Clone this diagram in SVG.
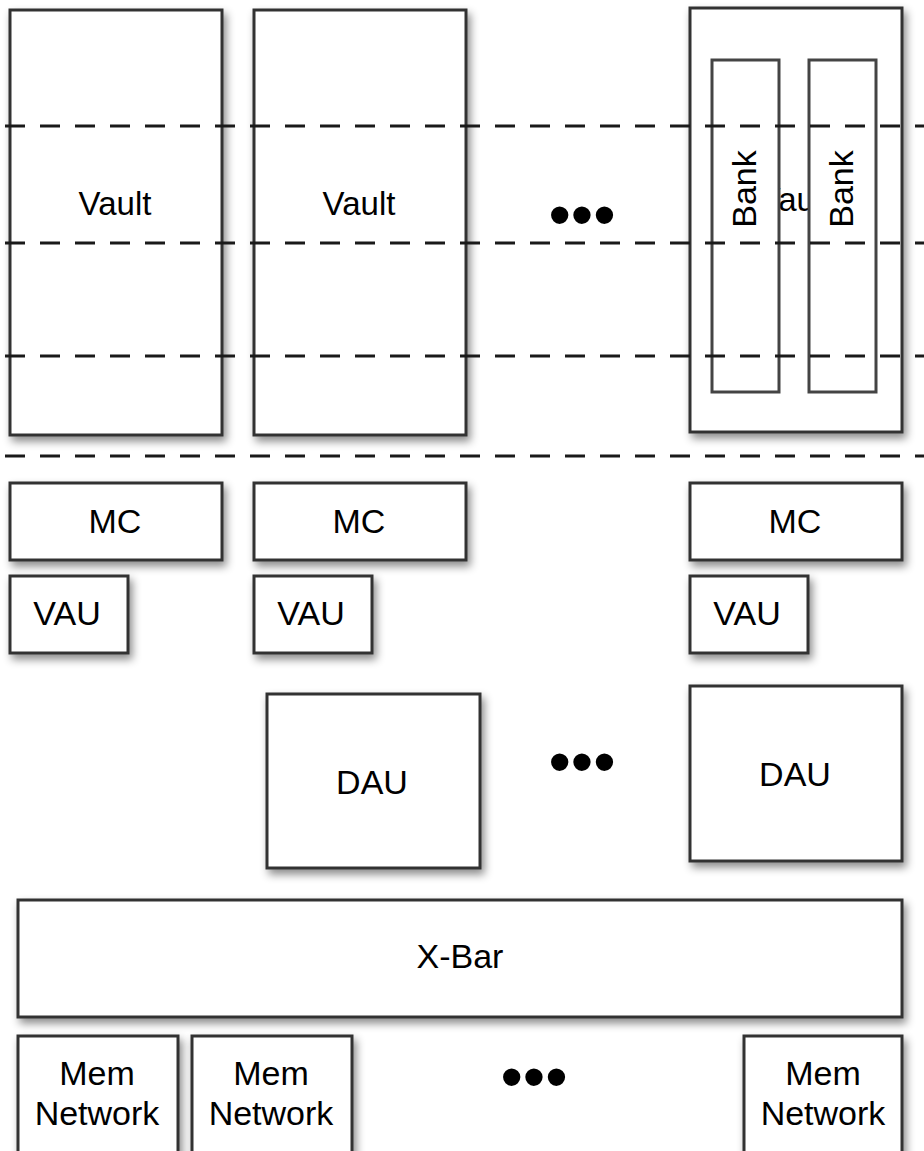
<svg xmlns="http://www.w3.org/2000/svg" width="924" height="1151" viewBox="0 0 924 1151">
<defs>
<filter id="sh" x="-20%" y="-20%" width="150%" height="150%">
<feDropShadow dx="3" dy="5" stdDeviation="4" flood-color="#000" flood-opacity="0.45"/>
</filter>
<style>
.box{fill:#fff;stroke:#333;stroke-width:3;filter:url(#sh)}
.bank{fill:#fff;stroke:#444;stroke-width:3}
.t{font-family:"Liberation Sans",Arial,sans-serif;font-size:34px;fill:#000;text-anchor:middle}
.v{font-size:33px}
.dots{font-family:"Liberation Sans",Arial,sans-serif;font-size:64px;fill:#000;text-anchor:middle}
.dash{stroke:#1a1a1a;stroke-width:3;stroke-dasharray:20 15;fill:none}
</style>
</defs>
<rect width="924" height="1151" fill="#fff"/>
<g id="vault1"><rect class="box" x="10" y="10" width="212" height="425"/><text class="t v" x="115" y="215">Vault</text></g>
<g id="vault2"><rect class="box" x="254" y="10" width="212" height="425"/><text class="t v" x="359" y="215">Vault</text></g>
<g id="vault3"><rect class="box" x="690" y="8" width="212" height="424"/><text class="t v" x="795" y="211">Vault</text>
<rect class="bank" x="712" y="60" width="67" height="332"/>
<rect class="bank" x="809" y="60" width="67" height="332"/>
<text class="t" transform="translate(756,189) rotate(-90)">Bank</text>
<text class="t" transform="translate(853,189) rotate(-90)">Bank</text></g>
<g id="dots1"><text class="dots" x="582" y="237">•••</text></g>
<g id="layers">
<line class="dash" x1="5" y1="126" x2="924" y2="126"/>
<line class="dash" x1="5" y1="243" x2="924" y2="243"/>
<line class="dash" x1="5" y1="356" x2="924" y2="356"/>
<line class="dash" x1="5" y1="456" x2="924" y2="456"/>
</g>
<g id="mc1"><rect class="box" x="10" y="483" width="212" height="77"/><text class="t" x="115" y="533">MC</text></g>
<g id="mc2"><rect class="box" x="254" y="483" width="212" height="77"/><text class="t" x="359" y="533">MC</text></g>
<g id="mc3"><rect class="box" x="690" y="483" width="212" height="77"/><text class="t" x="795" y="533">MC</text></g>
<g id="vau1"><rect class="box" x="10" y="576" width="118" height="77"/><text class="t" x="67" y="625">VAU</text></g>
<g id="vau2"><rect class="box" x="254" y="576" width="118" height="77"/><text class="t" x="311" y="625">VAU</text></g>
<g id="vau3"><rect class="box" x="690" y="576" width="118" height="77"/><text class="t" x="747" y="625">VAU</text></g>
<g id="dau1"><rect class="box" x="267" y="694" width="213" height="174"/><text class="t" x="372" y="794">DAU</text></g>
<g id="dots2"><text class="dots" x="582" y="784">•••</text></g>
<g id="dau2"><rect class="box" x="690" y="686" width="212" height="175"/><text class="t" x="795" y="786">DAU</text></g>
<g id="xbar"><rect class="box" x="18" y="900" width="884" height="117"/><text class="t" x="460" y="968">X-Bar</text></g>
<g id="mem1"><rect class="box" x="18" y="1036" width="160" height="130"/><text class="t" x="97" y="1085">Mem</text><text class="t" x="97" y="1125">Network</text></g>
<g id="mem2"><rect class="box" x="192" y="1036" width="160" height="130"/><text class="t" x="271" y="1085">Mem</text><text class="t" x="271" y="1125">Network</text></g>
<g id="dots3"><text class="dots" x="534" y="1099">•••</text></g>
<g id="mem3"><rect class="box" x="744" y="1036" width="158" height="130"/><text class="t" x="823" y="1085">Mem</text><text class="t" x="823" y="1125">Network</text></g>
</svg>
